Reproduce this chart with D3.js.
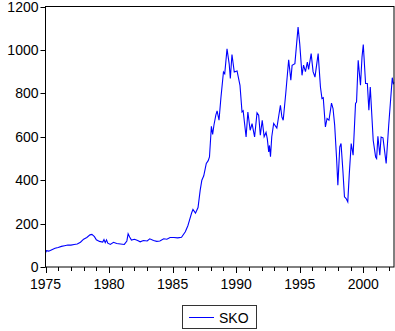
<!DOCTYPE html>
<html>
<head>
<meta charset="utf-8">
<script src="https://cdn.jsdelivr.net/npm/d3@7"></script>
<style>
  body { margin: 0; background: #fff; }
  svg text { font-family: "Liberation Sans", Arial, sans-serif; fill: #000; }
</style>
</head>
<body>
<div id="chart"></div>
<script>
const obsYears = [
  1975.00, 1975.08, 1975.25, 1975.50, 1975.75, 1976.00, 1976.25, 1976.50, 1976.75, 1977.00,
  1977.25, 1977.50, 1977.75, 1978.00, 1978.25, 1978.50, 1978.65, 1978.85, 1979.00, 1979.25,
  1979.50, 1979.60, 1979.70, 1979.80, 1979.90, 1980.10, 1980.35, 1980.60, 1980.90, 1981.20,
  1981.40, 1981.50, 1981.62, 1981.76, 1982.00, 1982.25, 1982.45, 1982.70, 1983.00, 1983.20,
  1983.50, 1983.75, 1984.00, 1984.30, 1984.55, 1984.80, 1985.10, 1985.40, 1985.70, 1986.00,
  1986.20, 1986.33, 1986.50, 1986.60, 1986.80, 1987.00, 1987.17, 1987.30, 1987.45, 1987.57,
  1987.65, 1987.80, 1987.90, 1988.05, 1988.15, 1988.25, 1988.40, 1988.50, 1988.65, 1988.80,
  1989.00, 1989.10, 1989.28, 1989.45, 1989.54, 1989.67, 1989.85, 1990.07, 1990.30, 1990.46,
  1990.55, 1990.78, 1990.92, 1991.10, 1991.25, 1991.45, 1991.64, 1991.77, 1991.90, 1992.05,
  1992.20, 1992.35, 1992.45, 1992.56, 1992.62, 1992.70, 1992.80, 1992.95, 1993.20, 1993.48,
  1993.60, 1993.70, 1993.90, 1994.13, 1994.30, 1994.40, 1994.62, 1994.87, 1995.00, 1995.18,
  1995.30, 1995.45, 1995.60, 1995.70, 1995.90, 1996.05, 1996.20, 1996.45, 1996.63, 1996.75,
  1996.85, 1997.02, 1997.15, 1997.30, 1997.50, 1997.62, 1997.75, 1997.90, 1998.00, 1998.15,
  1998.25, 1998.40, 1998.52, 1998.65, 1998.78, 1998.90, 1999.05, 1999.20, 1999.39, 1999.47,
  1999.60, 1999.78, 1999.90, 2000.00, 2000.18, 2000.32, 2000.44, 2000.55, 2000.78, 2000.97,
  2001.05, 2001.15, 2001.30, 2001.40, 2001.55, 2001.80, 2002.00, 2002.28, 2002.36, 2002.42
];
const skoValues = [
  66, 75, 73, 80, 86, 90, 95, 98, 101, 101,
  104, 106, 114, 128, 136, 148, 150, 140, 125, 118,
  115, 126, 112, 125, 110, 104, 114, 108, 106, 104,
  120, 153, 138, 124, 128, 122, 116, 122, 120, 130,
  122, 118, 120, 130, 128, 136, 136, 134, 137, 162,
  190, 216, 250, 265, 248, 274, 354, 400, 420, 454,
  477, 490, 507, 648, 611, 653, 700, 719, 676, 780,
  898, 890, 1005, 936, 868, 979, 898, 903, 837, 714,
  720, 599, 714, 630, 660, 599, 710, 699, 607, 676,
  600, 620, 590, 530, 560, 508, 600, 661, 640, 745,
  690, 676, 799, 955, 860, 929, 937, 1105, 1029, 883,
  930, 900, 944, 910, 983, 900, 875, 983, 829, 776,
  780, 645, 684, 676, 755, 730, 653, 500, 377, 553,
  569, 440, 323, 315, 300, 430, 569, 515, 753, 760,
  952, 837, 967, 1025, 845, 845, 722, 829, 584, 507,
  500, 602, 515, 599, 595, 477, 653, 872, 845, 850
];
const yTicks = [0, 200, 400, 600, 800, 1000, 1200];
const xMajorTicks = [1975, 1980, 1985, 1990, 1995, 2000];
const xMinorTicks = d3.range(1975, 2003);
const seriesName = "SKO";

const width = 395;
const height = 331;
const plotLeft = 45.5, plotRight = 394, plotTop = 6.5, plotBottom = 267;

const svg = d3.select("#chart")
  .append("svg")
  .attr("width", width)
  .attr("height", height);

const x = d3.scaleLinear()
  .domain([1975, 2002 + 5 / 12])
  .range([plotLeft, plotRight]);

const y = d3.scaleLinear()
  .domain([0, 1200])
  .range([plotBottom, plotTop]);

// Y axis ticks and labels
svg.selectAll(".ytick")
  .data(yTicks)
  .enter()
  .append("line")
  .attr("x1", plotLeft - 5)
  .attr("x2", plotLeft)
  .attr("y1", d => Math.round(y(d)) + 0.5)
  .attr("y2", d => Math.round(y(d)) + 0.5)
  .style("stroke", "#000");

svg.selectAll(".ylab")
  .data(yTicks)
  .enter()
  .append("text")
  .attr("x", plotLeft - 7)
  .attr("y", d => y(d) + 5)
  .attr("text-anchor", "end")
  .style("font-size", "14px")
  .text(d => d);

// X axis ticks
svg.selectAll(".xminor")
  .data(xMinorTicks)
  .enter()
  .append("line")
  .attr("x1", d => Math.round(x(d)) + 0.5)
  .attr("x2", d => Math.round(x(d)) + 0.5)
  .attr("y1", plotBottom)
  .attr("y2", d => xMajorTicks.includes(d) ? plotBottom + 6 : plotBottom + 4)
  .style("stroke", "#000");

svg.selectAll(".xlab")
  .data(xMajorTicks)
  .enter()
  .append("text")
  .attr("x", d => x(d))
  .attr("y", plotBottom + 22)
  .attr("text-anchor", "middle")
  .style("font-size", "14px")
  .text(d => d);

// Series line
const line = d3.line()
  .x((d, i) => x(obsYears[i]))
  .y(d => y(d));

svg.append("path")
  .datum(skoValues)
  .attr("d", line)
  .style("fill", "none")
  .style("stroke", "#0000ff")
  .style("stroke-width", 1.1);

// Frame
svg.append("rect")
  .attr("x", plotLeft)
  .attr("y", plotTop)
  .attr("width", plotRight - plotLeft)
  .attr("height", plotBottom - plotTop)
  .style("fill", "none")
  .style("stroke", "#000");

// Legend
const legend = svg.append("g");
legend.append("rect")
  .attr("x", 182.5)
  .attr("y", 305.5)
  .attr("width", 74)
  .attr("height", 23)
  .style("fill", "#fff")
  .style("stroke", "#333");
legend.append("line")
  .attr("x1", 189)
  .attr("x2", 214)
  .attr("y1", 317.5)
  .attr("y2", 317.5)
  .style("stroke", "#0000ff");
legend.append("text")
  .attr("x", 219)
  .attr("y", 322.5)
  .style("font-size", "14px")
  .text(seriesName);
</script>
</body>
</html>
